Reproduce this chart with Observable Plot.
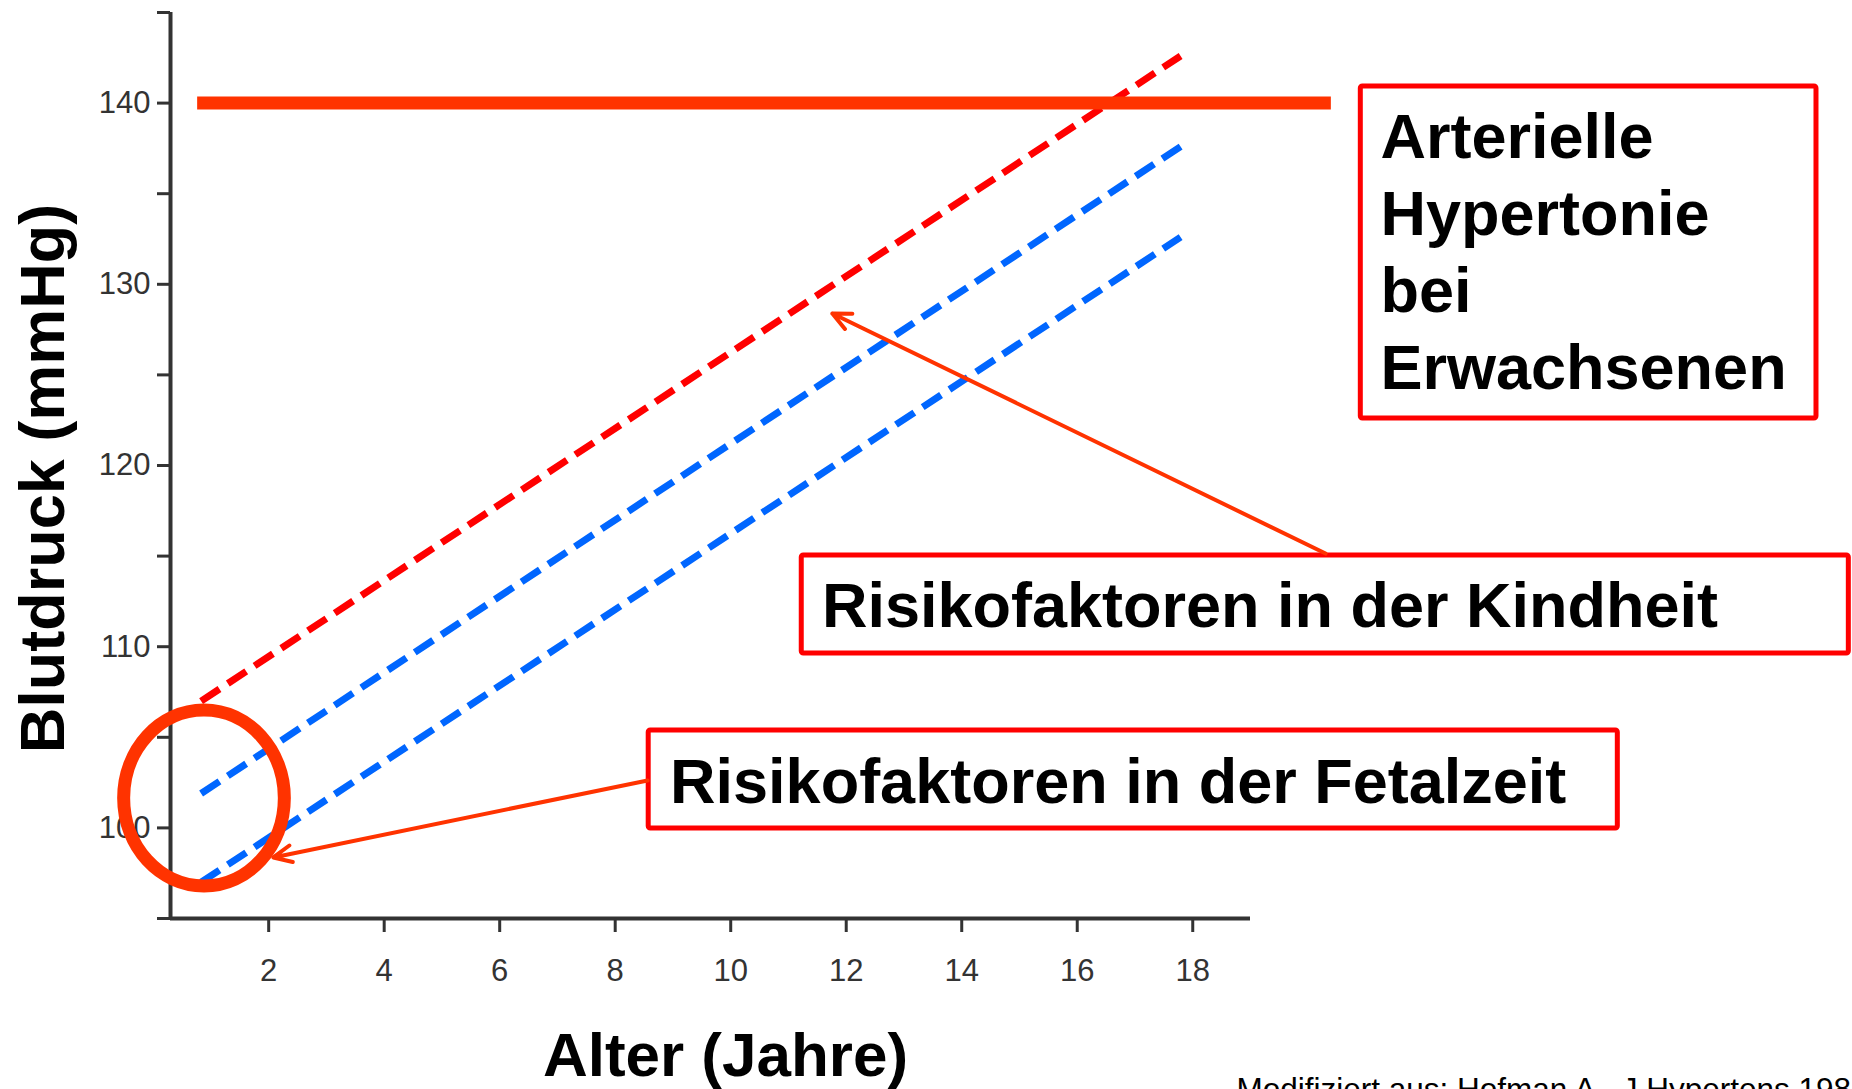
<!DOCTYPE html>
<html>
<head>
<meta charset="utf-8">
<script src="https://cdn.jsdelivr.net/npm/d3@7"></script>
<script src="https://cdn.jsdelivr.net/npm/@observablehq/plot@0.6"></script>
<style>
  html, body { margin: 0; padding: 0; background: white; overflow: hidden; }
  #chart svg { display: block; }
</style>
</head>
<body>
<div id="chart"></div>
<script>
// ---- Data ----
const lineAges = [0.83, 17.79];            // Alter (Jahre): start and end of the tracks
const bpRed = [107.0, 142.6];              // Blutdruck (mmHg), red dashed track
const bpBlueUpper = [101.9, 137.6];        // upper blue dashed track
const bpBlueLower = [97.0, 132.6];         // lower blue dashed track
const thresholdBP = 140;                    // Hypertonie threshold
const thresholdAges = [0.77, 20.4];

const xTicks = [2, 4, 6, 8, 10, 12, 14, 16, 18];
const yTicks = [95, 100, 105, 110, 115, 120, 125, 130, 135, 140, 145];

// annotation boxes (data coordinates)
const boxLabels = ["Arterielle\nHypertonie\nbei\nErwachsenen", "Risikofaktoren in der Kindheit", "Risikofaktoren in der Fetalzeit"];
const boxX1 = [20.91, 11.23, 8.58];
const boxX2 = [28.80, 29.36, 25.36];
const boxY1 = [122.59, 109.62, 99.97];
const boxY2 = [140.92, 115.03, 105.38];
const boxTextX = [21.25, 11.58, 8.95];
const boxTextY = [124.25, 111.06, 101.40];

// arrows (data coordinates)
const arrowX1 = [20.30, 8.56];
const arrowY1 = [115.14, 102.62];
const arrowX2 = [11.76, 2.08];
const arrowY2 = [128.39, 98.37];

// ellipse around the starting point
const ringX = [0.88];
const ringY = [101.65];

const yLabel = "Blutdruck (mmHg)";
const xLabel = "Alter (Jahre)";
const caption = "Modifiziert aus: Hofman A., J Hypertens 198";

// ---- Tables ----
const track = (vals) => lineAges.map((a, i) => ({age: a, bp: vals[i]}));
const boxes = boxLabels.map((label, i) => ({label, x1: boxX1[i], x2: boxX2[i], y1: boxY1[i], y2: boxY2[i], tx: boxTextX[i], ty: boxTextY[i]}));
const arrows = arrowX1.map((_, i) => ({x1: arrowX1[i], y1: arrowY1[i], x2: arrowX2[i], y2: arrowY2[i]}));
const ring = ringX.map((x, i) => ({x, y: ringY[i]}));

const ellipseSymbol = {
  draw(ctx, size) {
    const r = Math.sqrt(size / Math.PI);
    const rx = r * 0.913, ry = r, k = 0.5523;
    ctx.moveTo(rx, 0);
    ctx.bezierCurveTo(rx, ry * k, rx * k, ry, 0, ry);
    ctx.bezierCurveTo(-rx * k, ry, -rx, ry * k, -rx, 0);
    ctx.bezierCurveTo(-rx, -ry * k, -rx * k, -ry, 0, -ry);
    ctx.bezierCurveTo(rx * k, -ry, rx, -ry * k, rx, 0);
    ctx.closePath();
  }
};

const dash = {strokeWidth: 7, strokeDasharray: "22,10", strokeLinecap: "butt"};

const chart = Plot.plot({
  width: 1852,
  height: 1089,
  marginLeft: 170,
  marginRight: 602,
  marginTop: 12,
  marginBottom: 171,
  style: {fontFamily: "'Liberation Sans', Arial, Helvetica, sans-serif", background: "white"},
  x: {domain: [0.3, 19]},
  y: {domain: [95, 145]},
  marks: [
    Plot.axisY({ticks: yTicks, tickSize: 13, tickPadding: 7, strokeWidth: 3, color: "#333",
      fontSize: 31, tickFormat: d => d % 10 === 0 ? String(d) : "", label: null}),
    Plot.axisX({ticks: xTicks, tickSize: 14, tickPadding: 26, strokeWidth: 3, color: "#333",
      fontSize: 31, tickFormat: d => String(d), label: null}),
    Plot.ruleX([0.3], {y1: 95, y2: 145, stroke: "#333", strokeWidth: 4}),
    Plot.ruleY([95], {x1: 0.3, x2: 19, stroke: "#333", strokeWidth: 4}),
    Plot.line(track(bpRed), {x: "age", y: "bp", stroke: "#FF0000", ...dash}),
    Plot.line(track(bpBlueUpper), {x: "age", y: "bp", stroke: "#0066FF", ...dash}),
    Plot.line(track(bpBlueLower), {x: "age", y: "bp", stroke: "#0066FF", ...dash}),
    Plot.ruleY([thresholdBP], {x1: thresholdAges[0], x2: thresholdAges[1], stroke: "#FF3300", strokeWidth: 13}),
    Plot.rect(boxes, {x1: "x1", x2: "x2", y1: "y1", y2: "y2", fill: "white", stroke: "#FF0000", strokeWidth: 5, rx: 2}),
    Plot.text(boxes, {x: "tx", y: "ty", text: "label", textAnchor: "start", lineAnchor: "bottom",
      fontSize: 63, fontWeight: "bold", lineHeight: 1.222, fill: "black"}),
    Plot.arrow(arrows, {x1: "x1", y1: "y1", x2: "x2", y2: "y2", stroke: "#FF3300", strokeWidth: 4,
      headLength: 7.5, headAngle: 50}),
    Plot.dot(ring, {x: "x", y: "y", r: 88, symbol: ellipseSymbol, stroke: "#FF3300", strokeWidth: 13, fill: "none"}),
    Plot.text([yLabel], {frameAnchor: "left", dx: -107, dy: 13, rotate: -90, textAnchor: "middle",
      lineAnchor: "bottom", fontSize: 63, fontWeight: "bold", fill: "black"}),
    Plot.text([xLabel], {frameAnchor: "bottom", dx: 15, dy: 157, textAnchor: "middle",
      lineAnchor: "bottom", fontSize: 62, fontWeight: "bold", fill: "black"}),
    Plot.text([caption], {frameAnchor: "bottom-left", dx: 1066, dy: 181, textAnchor: "start",
      lineAnchor: "bottom", fontSize: 31.5, fill: "black"})
  ]
});
document.getElementById("chart").appendChild(chart);
</script>
</body>
</html>
